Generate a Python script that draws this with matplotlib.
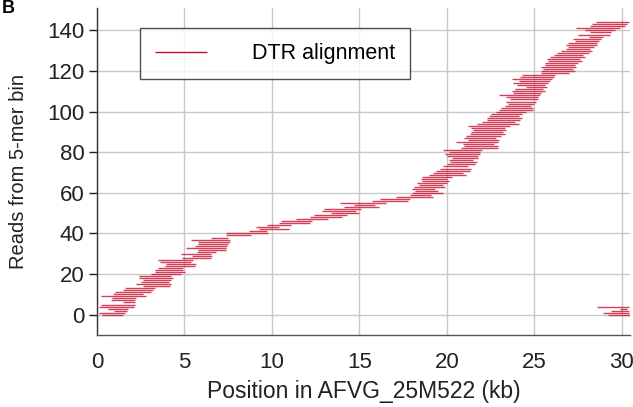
import matplotlib
matplotlib.use("Agg")
import matplotlib.pyplot as plt

plt.rcParams['font.family'] = ['Liberation Sans', 'DejaVu Sans']

# Read alignments (kb): start and end of each read, row = read index
read_start = [0.3, 0.1, 1.0, 0.65, 0.1, 0.25, 1.5, 0.8, 0.85, 0.25,
              0.95, 1.05, 1.5, 1.6, 2.65, 2.25, 2.5, 2.65, 2.4, 2.4,
              3.1, 3.35, 3.3, 3.5, 3.9, 3.95, 3.6, 3.5, 4.85, 5.45,
              4.8, 5.7, 5.8, 5.1, 5.6, 5.8, 5.8, 5.4, 6.5, 7.35,
              7.35, 8.7, 9.25, 9.1, 9.7, 10.4, 10.5, 11.4, 12.2, 12.4,
              13.35, 12.85, 13.0, 14.1, 14.7, 13.9, 15.7, 16.2, 17.1, 17.9,
              18.0, 18.2, 18.0, 18.1, 18.4, 18.3, 18.6, 18.5, 18.6, 19.0,
              19.2, 19.4, 19.6, 19.8, 20.0, 20.2, 20.1, 20.3, 20.0, 19.9,
              20.1, 19.8, 20.8, 21.0, 20.9, 20.5, 21.2, 21.0, 21.1, 21.3,
              21.4, 21.5, 21.4, 21.2, 21.7, 22.0, 22.3, 22.3, 22.4, 22.5,
              22.8, 23.0, 23.1, 23.3, 23.5, 23.4, 23.6, 23.4, 23.0, 23.8,
              23.7, 23.9, 24.5, 24.0, 23.8, 24.1, 23.7, 24.2, 24.3, 25.4,
              25.4, 25.5, 25.4, 25.6, 25.6, 25.8, 25.7, 25.9, 26.1, 26.3,
              26.5, 26.8, 26.9, 26.8, 26.9, 27.3, 27.2, 28.1, 27.5, 28.2,
              27.9, 27.4, 28.2, 28.3, 28.5]
read_end = [1.5, 1.6, 1.7, 1.8, 2.1, 2.2, 2.2, 2.2, 2.25, 2.8,
            2.65, 3.1, 3.2, 3.3, 4.2, 4.25, 4.1, 4.25, 4.35, 4.25,
            4.8, 5.05, 4.9, 4.95, 5.6, 5.65, 5.4, 5.5, 6.5, 6.6,
            6.5, 6.8, 7.4, 7.4, 7.45, 7.5, 7.6, 7.6, 7.5, 8.8,
            9.8, 9.7, 10.95, 10.4, 11.1, 12.2, 12.3, 13.2, 14.0, 14.3,
            14.95, 14.8, 15.1, 16.1, 15.9, 16.5, 17.8, 17.9, 19.2, 19.1,
            19.8, 19.5, 19.3, 19.9, 19.8, 20.0, 20.1, 20.0, 20.3, 21.1,
            20.9, 21.3, 21.4, 21.2, 21.6, 21.7, 21.5, 21.8, 21.8, 21.9,
            21.9, 22.0, 22.9, 22.9, 22.7, 22.9, 23.0, 22.8, 23.1, 23.3,
            23.2, 23.4, 23.3, 23.6, 24.1, 23.9, 24.2, 24.3, 24.1, 24.3,
            24.5, 24.9, 24.9, 24.8, 25.0, 25.1, 25.2, 25.2, 25.3, 25.4,
            25.6, 25.5, 25.7, 25.6, 25.8, 25.9, 26.0, 26.1, 26.2, 27.0,
            27.3, 27.2, 27.4, 27.3, 27.5, 27.7, 27.6, 27.9, 27.8, 28.1,
            28.3, 28.2, 28.4, 28.6, 28.6, 28.7, 28.8, 28.9, 29.3, 29.4,
            29.6, 29.9, 30.2, 30.3, 30.4]

# Parts of the first reads that wrap around the genome end
wrap_row = [0, 1, 2, 3, 4]
wrap_start = [29.2, 28.9, 29.4, 29.9, 28.6]
wrap_end = [30.5, 30.4, 30.4, 30.3, 30.4]

x_ticks = [0, 5, 10, 15, 20, 25, 30]
y_ticks = [0, 20, 40, 60, 80, 100, 120, 140]

fig = plt.figure(figsize=(6.33, 4.07), dpi=100)
ax = fig.add_axes([0.153, 0.177, 0.842, 0.803])

color = '#c8102e'
rows = list(range(len(read_start)))
ax.hlines(rows, read_start, read_end, colors=color, linewidth=1.0, alpha=0.8,
          label='DTR alignment', zorder=3)
ax.hlines(wrap_row, wrap_start, wrap_end, colors=color, linewidth=1.0,
          alpha=0.8, zorder=3)

ax.set_xlim(0, 30.45)
ax.set_ylim(-10, 151)
ax.set_xticks(x_ticks)
ax.set_yticks(y_ticks)
ax.grid(True, color='#c8c8c8', linewidth=1.0, zorder=0)
ax.set_axisbelow(True)
for s in ['top', 'right']:
    ax.spines[s].set_visible(False)
ax.spines['left'].set_color('#333333')
ax.spines['bottom'].set_color('#555555')
for s in ['left', 'bottom']:
    ax.spines[s].set_linewidth(1.0)
ax.tick_params(axis='both', labelsize=16, colors='#222222', length=6, width=1)
ax.tick_params(axis='y', pad=3)
ax.tick_params(axis='x', length=0, pad=12)

ax.set_xlabel('Position in AFVG_25M522 (kb)', fontsize=16.5, color='#222222', labelpad=5)
ax.set_ylabel('Reads from 5-mer bin', fontsize=14.5, color='#222222', labelpad=14)

leg = ax.legend(loc='upper left', bbox_to_anchor=(0.081, 0.939), borderaxespad=0,
                fontsize=15.5, frameon=True, fancybox=False, edgecolor='#222222',
                handlelength=2.4, handletextpad=2.1, borderpad=0.7)
leg.get_frame().set_linewidth(1.0)
for h in leg.legend_handles:
    h.set_alpha(1.0)
    h.set_linewidth(1.0)

fig.text(0.002, 0.999, 'B', fontsize=13, fontweight='bold', va='top', ha='left')

fig.savefig('out.png', dpi=100)
